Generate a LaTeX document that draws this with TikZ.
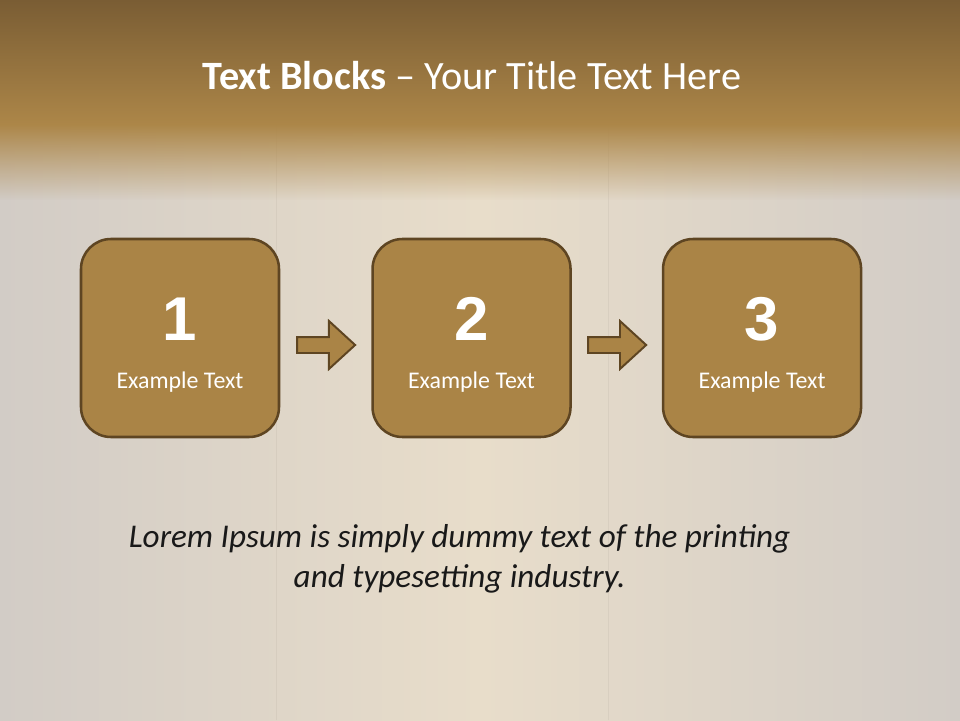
\documentclass[tikz,border=0pt]{standalone}
\usepackage{fontspec}
\setmainfont{Carlito}
\newfontfamily\numfont{Liberation Sans}
\usetikzlibrary{positioning,shapes.arrows,fadings,calc}
\definecolor{bandtop}{RGB}{122,93,52}
\definecolor{bandbot}{RGB}{172,134,72}
\definecolor{wallmid}{RGB}{232,221,202}
\definecolor{walledge}{RGB}{210,204,198}
\definecolor{boxfill}{HTML}{AA8446}
\definecolor{boxline}{HTML}{5E4522}
\tikzfading[name=bandfade, top color=transparent!0, bottom color=transparent!100]

\begin{document}
\begin{tikzpicture}[
  numbox/.style={draw=boxline, fill=boxfill, line width=1.8pt, rounded corners=0.75cm, minimum size=4.95cm, inner sep=0pt},
  boxnum/.style={anchor=base, text=white, font=\numfont\bfseries\fontsize{44}{50}\selectfont},
  boxtext/.style={anchor=base, text=white, font=\fontsize{17}{20}\selectfont},
  blockarrow/.style={single arrow, draw=boxline, fill=boxfill, line width=1.4pt, minimum height=1.45cm, single arrow head extend=0.4cm, single arrow tip angle=85, inner xsep=0pt, inner ysep=0.175cm},
  node distance=2.275cm
]

% background
\useasboundingbox (0,0) rectangle (24,18);
\shade[left color=walledge, right color=walledge, middle color=wallmid] (0,0) rectangle (24,18);
\draw[boxline!40, opacity=0.25, line width=0.6pt] (6.9,0) -- (6.9,15);
\draw[boxline!40, opacity=0.25, line width=0.6pt] (15.2,0) -- (15.2,15);
\shade[top color=bandtop, bottom color=bandbot] (0,14.9) rectangle (24,18);
\fill[bandbot, path fading=bandfade] (0,13.0) rectangle (24,14.9);

% title
\node[text=white, font=\fontsize{28.6}{34}\selectfont] (title) at (11.8,16.1) {\textbf{Text Blocks} -- Your Title Text Here};

% blocks
\node[numbox] (b1) at (4.5,9.55) {};
\node[numbox, right=of b1] (b2) {};
\node[numbox, right=2.25cm of b2] (b3) {};

\node[boxnum] (n1) at ($(b1.center)+(0,-0.05)$) {1};
\node[boxnum] (n2) at ($(b2.center)+(0,-0.05)$) {2};
\node[boxnum] (n3) at ($(b3.center)+(0,-0.05)$) {3};
\node[boxtext] (t1) at ($(b1.center)+(0,-1.27)$) {Example Text};
\node[boxtext] (t2) at ($(b2.center)+(0,-1.27)$) {Example Text};
\node[boxtext] (t3) at ($(b3.center)+(0,-1.27)$) {Example Text};

% arrows between blocks
\node[blockarrow] (a1) at ($($(b1.east)!0.5!(b2.west)$)+(-0.1,-0.175)$) {};
\node[blockarrow] (a2) at ($($(b2.east)!0.5!(b3.west)$)+(-0.1,-0.175)$) {};

% caption
\node[align=center, text=black!90, font=\itshape\fontsize{23.6}{28.5}\selectfont] (caption) at (11.49,4.03)
  {Lorem Ipsum is simply dummy text of the printing\\and typesetting industry.};

\end{tikzpicture}
\end{document}
